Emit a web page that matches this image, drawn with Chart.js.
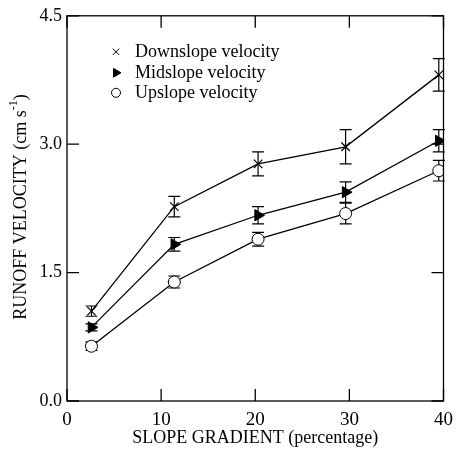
<!DOCTYPE html>
<html>
<head>
<meta charset="utf-8">
<script src="https://cdn.jsdelivr.net/npm/chart.js@4.4.1/dist/chart.umd.min.js"></script>
<style>
  html, body { margin: 0; padding: 0; background: #fff; }
  #wrap { width: 461px; height: 451px; }
</style>
</head>
<body>
<div id="wrap"><canvas id="chart" width="461" height="451"></canvas></div>
<script>
// values
const slopeGradient = [2.6, 11.4, 20.3, 29.6, 39.5];
const downslopeVelocity = [1.05, 2.27, 2.77, 2.97, 3.81];
const downslopeError = [0.06, 0.12, 0.14, 0.2, 0.19];
const midslopeVelocity = [0.86, 1.83, 2.17, 2.44, 3.04];
const midslopeError = [0.04, 0.08, 0.1, 0.12, 0.13];
const upslopeVelocity = [0.64, 1.39, 1.89, 2.19, 2.69];
const upslopeError = [0.05, 0.07, 0.08, 0.12, 0.12];
const xTicks = [0, 10, 20, 30, 40];
const yTicks = [0, 1.5, 3.0, 4.5];
const seriesNames = ["Downslope velocity", "Midslope velocity", "Upslope velocity"];

const serif = "'Liberation Serif', 'DejaVu Serif', serif";

function toPoints(ys) {
  return ys.map((y, i) => ({ x: slopeGradient[i], y: y }));
}

var datasets = [
  {
    label: seriesNames[0], data: toPoints(downslopeVelocity), errors: downslopeError,
    pointStyle: "crossRot", pointRadius: 6, pointBorderWidth: 1.2, rotation: 0,
    backgroundColor: "transparent"
  },
  {
    label: seriesNames[1], data: toPoints(midslopeVelocity), errors: midslopeError,
    pointStyle: "triangle", pointRadius: 6.5, rotation: 90, pointBorderWidth: 1,
    backgroundColor: "#000"
  },
  {
    label: seriesNames[2], data: toPoints(upslopeVelocity), errors: upslopeError,
    pointStyle: "circle", pointRadius: 6, pointBorderWidth: 1, rotation: 0,
    backgroundColor: "#fff"
  }
];
datasets.forEach(d => {
  d.borderColor = "#000";
  d.borderWidth = 1.3;
  d.pointBackgroundColor = d.backgroundColor;
  d.pointBorderColor = "#000";
  d.tension = 0;
});

// error bars, inward ticks, frame, legend and y title
const extras = {
  id: "extras",
  beforeDatasetsDraw(chart) {
    const ctx = chart.ctx;
    const xs = chart.scales.x, ys = chart.scales.y;
    ctx.save();
    ctx.strokeStyle = "#000";
    ctx.lineWidth = 1.2;
    chart.data.datasets.forEach(ds => {
      ds.data.forEach((p, i) => {
        const px = xs.getPixelForValue(p.x);
        const top = ys.getPixelForValue(p.y + ds.errors[i]);
        const bot = ys.getPixelForValue(p.y - ds.errors[i]);
        ctx.beginPath();
        ctx.moveTo(px, top); ctx.lineTo(px, bot);
        ctx.moveTo(px - 6, top); ctx.lineTo(px + 6, top);
        ctx.moveTo(px - 6, bot); ctx.lineTo(px + 6, bot);
        ctx.stroke();
      });
    });
    ctx.restore();
  },
  afterDraw(chart) {
    const ctx = chart.ctx;
    const a = chart.chartArea;
    const xs = chart.scales.x, ys = chart.scales.y;
    ctx.save();
    ctx.strokeStyle = "#000";
    ctx.lineWidth = 1.3;
    ctx.strokeRect(a.left, a.top, a.right - a.left, a.bottom - a.top);
    ctx.beginPath();
    xTicks.forEach(v => {
      const px = xs.getPixelForValue(v);
      ctx.moveTo(px, a.bottom); ctx.lineTo(px, a.bottom - 12);
      ctx.moveTo(px, a.top); ctx.lineTo(px, a.top + 12);
    });
    yTicks.forEach(v => {
      const py = ys.getPixelForValue(v);
      ctx.moveTo(a.left, py); ctx.lineTo(a.left + 12, py);
      ctx.moveTo(a.right, py); ctx.lineTo(a.right - 12, py);
    });
    ctx.stroke();

    // legend
    ctx.font = "18px " + serif;
    ctx.textBaseline = "middle";
    const rows = [a.top + 36, a.top + 57, a.top + 77];
    const fills = ["transparent", "#000", "#fff"];
    chart.data.datasets.forEach((ds, i) => {
      const mx = a.left + 49;
      ctx.fillStyle = fills[i];
      ctx.lineWidth = 1;
      Chart.helpers.drawPoint(ctx, {
        pointStyle: ds.pointStyle, rotation: ds.rotation,
        radius: i === 1 ? 5 : 4.5, borderWidth: 1
      }, mx, rows[i]);
      ctx.fillStyle = "#000";
      ctx.fillText(ds.label, a.left + 68, rows[i]);
    });

    // y title with superscript
    ctx.translate(21, 207);
    ctx.rotate(-Math.PI / 2);
    const main = "RUNOFF VELOCITY (cm s";
    ctx.font = "18px " + serif;
    const w1 = ctx.measureText(main).width;
    ctx.font = "12px " + serif;
    const w2 = ctx.measureText("-1").width;
    ctx.font = "18px " + serif;
    const w3 = ctx.measureText(")").width;
    let x0 = -(w1 + w2 + w3) / 2;
    ctx.textAlign = "left";
    ctx.fillText(main, x0, 0);
    ctx.font = "12px " + serif;
    ctx.fillText("-1", x0 + w1, -7);
    ctx.font = "18px " + serif;
    ctx.fillText(")", x0 + w1 + w2, 0);
    ctx.restore();
  }
};

new Chart(document.getElementById("chart").getContext("2d"), {
  type: "line",
  data: { datasets: datasets },
  options: {
    responsive: false,
    animation: false,
    layout: { padding: { top: 15, right: 8, left: 0, bottom: 0 } },
    plugins: { legend: { display: false }, tooltip: { enabled: false } },
    scales: {
      x: {
        type: "linear", min: 0, max: 40,
        afterBuildTicks: s => { s.ticks = xTicks.map(v => ({ value: v })); },
        afterFit: s => { s.height = 50; },
        grid: { display: false, drawTicks: false },
        border: { display: false },
        ticks: { color: "#000", padding: 8, font: { family: serif, size: 19 } },
        title: {
          display: true, text: "SLOPE GRADIENT (percentage)", color: "#000",
          font: { family: serif, size: 18 }, padding: { top: 0, bottom: 2 }
        }
      },
      y: {
        type: "linear", min: 0, max: 4.5,
        afterBuildTicks: s => { s.ticks = yTicks.map(v => ({ value: v })); },
        afterFit: s => { s.width = 67; },
        grid: { display: false, drawTicks: false },
        border: { display: false },
        ticks: {
          color: "#000", padding: 5, font: { family: serif, size: 18 },
          callback: v => v.toFixed(1)
        }
      }
    }
  },
  plugins: [extras]
});
</script>
</body>
</html>
